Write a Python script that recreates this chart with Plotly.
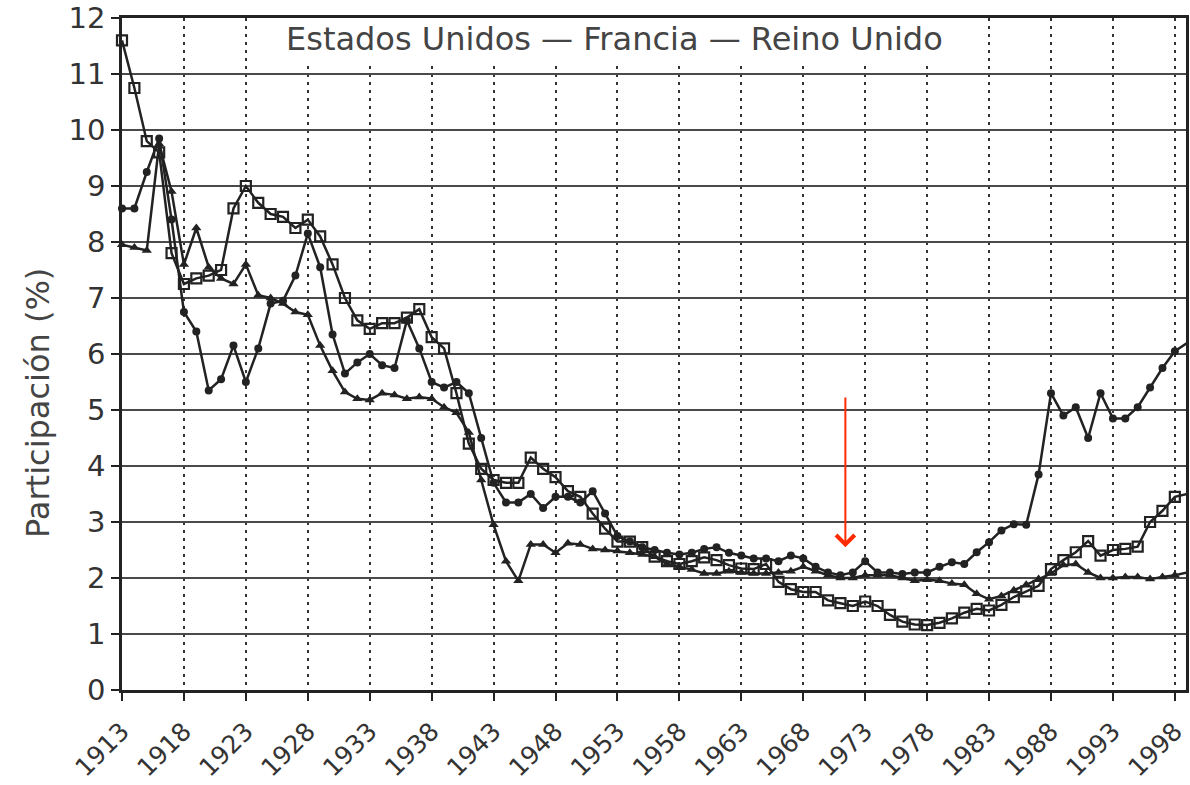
import plotly.graph_objects as go

years = list(range(1913, 2000))

serie_cuadros = [
    11.6, 10.75, 9.8, 9.6, 7.8, 7.25, 7.35, 7.4, 7.5, 8.6,
    9.0, 8.7, 8.5, 8.45, 8.25, 8.4, 8.1, 7.6, 7.0, 6.6,
    6.45, 6.55, 6.55, 6.65, 6.8, 6.3, 6.1, 5.3, 4.4, 3.95,
    3.75, 3.7, 3.7, 4.15, 3.95, 3.8, 3.55, 3.45, 3.15, 2.88,
    2.65, 2.65, 2.55, 2.38, 2.3, 2.25, 2.3, 2.37, 2.32, 2.23,
    2.17, 2.16, 2.25, 1.93, 1.8, 1.75, 1.75, 1.6, 1.55, 1.5,
    1.58, 1.5, 1.34, 1.22, 1.17, 1.16, 1.2, 1.28, 1.38, 1.45,
    1.42, 1.52, 1.66, 1.76, 1.86, 2.16, 2.32, 2.46, 2.66, 2.4,
    2.5, 2.52, 2.56, 3.0, 3.2, 3.45, 3.5,
]

serie_circulos = [
    8.6, 8.6, 9.25, 9.85, 8.4, 6.75, 6.4, 5.35, 5.55, 6.15,
    5.5, 6.1, 6.9, 6.95, 7.4, 8.15, 7.55, 6.35, 5.65, 5.85,
    6.0, 5.8, 5.75, 6.6, 6.1, 5.5, 5.4, 5.5, 5.3, 4.5,
    3.7, 3.35, 3.35, 3.5, 3.25, 3.45, 3.45, 3.35, 3.55, 3.15,
    2.75, 2.65, 2.55, 2.5, 2.45, 2.42, 2.45, 2.52, 2.55, 2.45,
    2.4, 2.35, 2.35, 2.3, 2.4, 2.35, 2.2, 2.1, 2.05, 2.1,
    2.3, 2.1, 2.1, 2.07, 2.1, 2.1, 2.2, 2.28, 2.25, 2.46,
    2.64, 2.85, 2.96, 2.95, 3.85, 5.3, 4.9, 5.05, 4.5, 5.3,
    4.85, 4.85, 5.05, 5.4, 5.75, 6.05, 6.2,
]

serie_triangulos = [
    7.95, 7.9, 7.85, 9.75, 8.9, 7.6, 8.25, 7.55, 7.35, 7.25,
    7.6, 7.05, 7.0, 6.9, 6.75, 6.7, 6.15, 5.7, 5.32, 5.2,
    5.18, 5.3, 5.27, 5.2, 5.23, 5.2, 5.05, 4.95, 4.6, 3.75,
    2.95, 2.3, 1.95, 2.6, 2.6, 2.45, 2.62, 2.6, 2.52, 2.5,
    2.48, 2.45, 2.42, 2.38, 2.25, 2.2, 2.15, 2.08, 2.08, 2.12,
    2.1, 2.08, 2.08, 2.1, 2.12, 2.2, 2.12, 2.05, 2.0, 2.0,
    2.05, 2.05, 2.05, 2.0, 1.95, 1.97, 1.95, 1.9, 1.88, 1.72,
    1.62, 1.68, 1.78, 1.88, 1.98, 2.08, 2.23, 2.25, 2.1, 2.0,
    2.0, 2.02, 2.02, 1.98, 2.02, 2.05, 2.1,
]

x_ticks = [1913, 1918, 1923, 1928, 1933, 1938, 1943, 1948, 1953, 1958,
           1963, 1968, 1973, 1978, 1983, 1988, 1993, 1998]
y_ticks = list(range(0, 13))

titulo = "Estados Unidos — Francia — Reino Unido"
eje_y = "Participación (%)"

INK = "#222222"
FONT = "DejaVu Sans"

fig = go.Figure()

fig.add_trace(go.Scatter(
    x=years, y=serie_triangulos, mode="lines+markers", name="Serie triángulos",
    line=dict(color=INK, width=2.5),
    marker=dict(symbol="triangle-up", size=9, color=INK),
    cliponaxis=False,
))
fig.add_trace(go.Scatter(
    x=years, y=serie_circulos, mode="lines+markers", name="Serie círculos",
    line=dict(color=INK, width=2.5),
    marker=dict(symbol="circle", size=8, color=INK),
    cliponaxis=False,
))
fig.add_trace(go.Scatter(
    x=years, y=serie_cuadros, mode="lines+markers", name="Serie cuadrados",
    line=dict(color=INK, width=2.5),
    marker=dict(symbol="square-open", size=10, color=INK, line=dict(width=2.2, color=INK)),
    cliponaxis=False,
))

# white box behind the in-plot title (hides gridlines, not data)
fig.add_shape(type="rect", xref="x", yref="y", x0=1925.3, x1=1980.2, y0=11.15, y1=12,
              fillcolor="white", line=dict(width=0), layer="between")

fig.add_annotation(
    x=1952.8, y=11.62, xref="x", yref="y", text=titulo, showarrow=False,
    font=dict(family=FONT, size=32, color="#444444"), xanchor="center", yanchor="middle",
)

fig.add_annotation(
    x=-0.079, y=0.427, xref="paper", yref="paper", text=eje_y, showarrow=False,
    textangle=-90, font=dict(family=FONT, size=32, color="#444444"),
    xanchor="center", yanchor="middle",
)

# red arrow
fig.add_annotation(
    x=1971.4, y=2.55, xref="x", yref="y", ax=1971.4, ay=5.25, axref="x", ayref="y",
    text="", showarrow=True, arrowhead=4, arrowsize=1.8, arrowwidth=2,
    arrowcolor="#ff2a00", standoff=0,
)

fig.update_layout(
    width=1190, height=785,
    margin=dict(l=122, r=4, t=18, b=95),
    paper_bgcolor="white", plot_bgcolor="white",
    showlegend=False,
    font=dict(family=FONT, color="#333333"),
)

fig.update_xaxes(
    range=[1913, 1998.9], tickmode="array", tickvals=x_ticks,
    ticktext=[str(v) for v in x_ticks], tickangle=-45,
    tickfont=dict(family=FONT, size=25, color="#333333"),
    ticklabelstandoff=6,
    showgrid=True, gridcolor="#333333", gridwidth=2, griddash="3px,5px",
    showline=True, linecolor=INK, linewidth=2.5, mirror=True,
    ticks="outside", ticklen=8, tickwidth=2, tickcolor=INK,
    zeroline=False, automargin=False, ticklabeloverflow="allow",
)
fig.update_yaxes(
    range=[0, 12], tickmode="array", tickvals=y_ticks,
    ticktext=[str(v) for v in y_ticks],
    tickfont=dict(family=FONT, size=29, color="#333333"),
    showgrid=True, gridcolor="#4a4a4a", gridwidth=2,
    showline=True, linecolor=INK, linewidth=2.5, mirror=True,
    ticks="outside", ticklen=8, tickwidth=2, tickcolor=INK,
    zeroline=False, automargin=False, ticklabeloverflow="allow",
)

# remove the default page margin so the figure fills the window exactly
fig.write_html(
    "out.html",
    config={"displayModeBar": False},
    post_script="document.body.style.margin='0';document.body.style.padding='0';",
)
